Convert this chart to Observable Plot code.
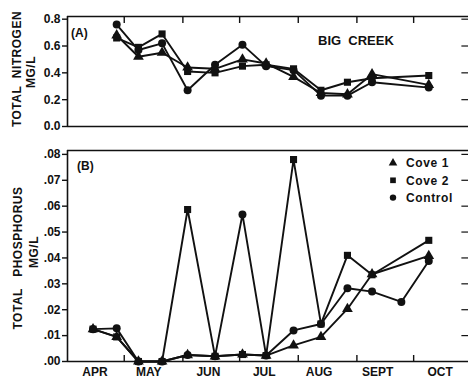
<!DOCTYPE html>
<html><head><meta charset="utf-8">
<script src="https://cdn.jsdelivr.net/npm/d3@7"></script>
<script src="https://cdn.jsdelivr.net/npm/@observablehq/plot@0.6"></script>
<style>
body{margin:0;background:#fff;}
#wrap{position:relative;width:470px;height:380px;overflow:hidden;font-family:"Liberation Sans",Arial,sans-serif;font-weight:bold;color:#111;}
#wrap > div.panel{position:absolute;left:0;}
.t{position:absolute;white-space:pre;line-height:1;}
.vt{position:absolute;white-space:pre;line-height:1;transform:translate(-50%,-50%) rotate(-90deg);font-size:12px;letter-spacing:0.5px;}
</style></head>
<body><div id="wrap"></div>
<script>
// ---- data (x = days since April 1) ----
const series = ["Cove 1", "Cove 2", "Control"];
const symbols = ["triangle", "square", "circle"];
const drawOrder = ["Control", "Cove 1", "Cove 2"];

const nitroDays = [26, 37.5, 50, 63.5, 78, 92.5, 105, 119.5, 134, 148, 161, 191];
const nitroCove1 = [0.68, 0.52, 0.55, 0.44, 0.43, 0.50, 0.47, 0.37, 0.25, 0.24, 0.39, 0.31];
const nitroCove2 = [0.66, 0.59, 0.69, 0.41, 0.40, 0.45, 0.46, 0.43, 0.27, 0.33, 0.36, 0.38];
const nitroControl = [0.76, 0.57, 0.62, 0.27, 0.46, 0.61, 0.45, 0.42, 0.23, 0.23, 0.33, 0.29];

const phosDays = [13.5, 26, 37.5, 50, 63.5, 78, 92.5, 105, 119.5, 134, 148, 161, 176.5, 191];
const phosCove1 = [0.0125, 0.0095, 0, 0, 0.0025, 0.002, 0.0027, 0.0023, 0.0062, 0.0095, 0.0203, 0.0337, null, 0.0408];
const phosCove2 = [0.0125, 0.0095, 0, 0, 0.0587, 0.002, 0.0027, 0.0023, 0.078, 0.0145, 0.041, 0.0335, null, 0.0468];
const phosControl = [0.0125, 0.0128, 0, 0, 0.0025, 0.002, 0.0568, 0.0023, 0.012, 0.0145, 0.0283, 0.027, 0.023, 0.0388];

const monthStarts = [30, 61, 91, 122, 153, 183];
const monthLabelDays = [14.5, 43, 74.5, 104, 133, 164, 197];
const monthLabels = ["APR", "MAY", "JUN", "JUL", "AUG", "SEPT", "OCT"];

const nitroTicks = [0, 0.2, 0.4, 0.6, 0.8];
const phosTicks = [0, 0.01, 0.02, 0.03, 0.04, 0.05, 0.06, 0.07, 0.08];

// ---- build tidy rows ----
function tidy(days, lists) {
  const rows = [];
  lists.forEach((vals, s) => vals.forEach((v, i) => {
    if (v != null) rows.push({series: series[s], day: days[i], value: v});
  }));
  rows.sort((a, b) => drawOrder.indexOf(a.series) - drawOrder.indexOf(b.series));
  return rows;
}
const nitroRows = tidy(nitroDays, [nitroCove1, nitroCove2, nitroControl]);
const phosRows = tidy(phosDays, [phosCove1, phosCove2, phosControl]);

const xDomain = [0, 212];
const ink = "#111";
const baseStyle = {fontFamily: '"Liberation Sans", Arial, sans-serif', fontSize: "12px", fontWeight: "bold", color: ink, background: "transparent", overflow: "visible"};

function panel({rows, yDomain, yTicks, fmt, height, marginTop, marginBottom, topTicks, labels}) {
  const inner = yTicks.slice(1).filter(t => t < yDomain[1] - 1e-9);
  const marks = [
    Plot.ruleY([yDomain[0]], {stroke: ink, strokeWidth: 1.6}),
    Plot.ruleY([yDomain[1]], {stroke: ink, strokeWidth: 1.4}),
    Plot.ruleX([xDomain[0]], {stroke: ink, strokeWidth: 1.6}),
    Plot.axisY(yTicks, {anchor: "left", tickSize: 5, tickPadding: 2, tickFormat: fmt, label: null, stroke: ink, strokeWidth: 1.4, fill: ink}),
    // inward ticks along the right edge
    Plot.ruleY(inner, {x1: xDomain[1] - 3.5, x2: xDomain[1], stroke: ink, strokeWidth: 1.2}),
    topTicks
      ? Plot.axisX(monthStarts, {anchor: "top", tickSize: 6, dy: 6, tickFormat: () => "", label: null, stroke: ink, strokeWidth: 1.4})
      : Plot.axisX(monthStarts, {anchor: "bottom", tickSize: 6, dy: -6, tickFormat: () => "", label: null, stroke: ink, strokeWidth: 1.4}),
    Plot.line(rows, {x: "day", y: "value", z: "series", stroke: ink, strokeWidth: 1.9}),
    Plot.dot(rows, {x: "day", y: "value", symbol: "series", fill: ink, stroke: "none", r: 4})
  ];
  if (labels) marks.push(Plot.axisX(monthLabelDays, {anchor: "bottom", tickSize: 0, tickPadding: 6, tickFormat: d => monthLabels[monthLabelDays.indexOf(d)], label: null, fill: ink, fontSize: 12}));
  return Plot.plot({
    width: 470, height, marginLeft: 67, marginRight: 2, marginTop, marginBottom,
    style: baseStyle,
    x: {domain: xDomain},
    y: {domain: yDomain},
    symbol: {domain: series, range: symbols},
    marks
  });
}

const wrap = document.getElementById("wrap");

const topChart = panel({rows: nitroRows, yDomain: [0, 0.82], yTicks: nitroTicks, fmt: d => d.toFixed(1),
  height: 140, marginTop: 16, marginBottom: 14, topTicks: true, labels: false});
const d1 = document.createElement("div"); d1.className = "panel"; d1.style.top = "0px"; d1.appendChild(topChart); wrap.appendChild(d1);

const botChart = panel({rows: phosRows, yDomain: [0, 0.0815], yTicks: phosTicks, fmt: d => d.toFixed(2).replace(/^0/, ""),
  height: 240, marginTop: 10, marginBottom: 19, topTicks: false, labels: true});
const d2 = document.createElement("div"); d2.className = "panel"; d2.style.top = "140px"; d2.appendChild(botChart); wrap.appendChild(d2);

// ---- annotations ----
function addText(txt, cls, css) {
  const el = document.createElement("div");
  el.className = cls; el.textContent = txt;
  Object.assign(el.style, css); wrap.appendChild(el); return el;
}
addText("(A)", "t", {left: "71px", top: "27px", fontSize: "12px"});
addText("BIG  CREEK", "t", {left: "318px", top: "34px", fontSize: "13px"});
addText("(B)", "t", {left: "77px", top: "160px", fontSize: "12px"});
addText("TOTAL  NITROGEN", "vt", {left: "17px", top: "69px"});
addText("MG/L", "vt", {left: "31px", top: "72px"});
addText("TOTAL   PHOSPHORUS", "vt", {left: "18px", top: "258px"});
addText("MG/L", "vt", {left: "34px", top: "252px"});

// ---- legend ----
const leg = d3.create("svg").attr("width", 85).attr("height", 56)
  .style("position", "absolute").style("left", "385px").style("top", "154px");
const symMap = {triangle: d3.symbolTriangle, square: d3.symbolSquare, circle: d3.symbolCircle};
series.forEach((s, i) => {
  const g = leg.append("g").attr("transform", `translate(8,${9 + i * 17.3})`);
  g.append("path").attr("d", d3.symbol(symMap[symbols[i]], Math.PI * 3.2 * 3.2)()).attr("fill", ink);
  g.append("text").attr("x", 13).attr("dy", "0.36em").attr("font-size", 12).attr("font-weight", "bold")
    .attr("font-family", '"Liberation Sans", Arial, sans-serif').attr("letter-spacing", "0.6").attr("fill", ink).text(s);
});
wrap.appendChild(leg.node());
</script>
</body></html>
